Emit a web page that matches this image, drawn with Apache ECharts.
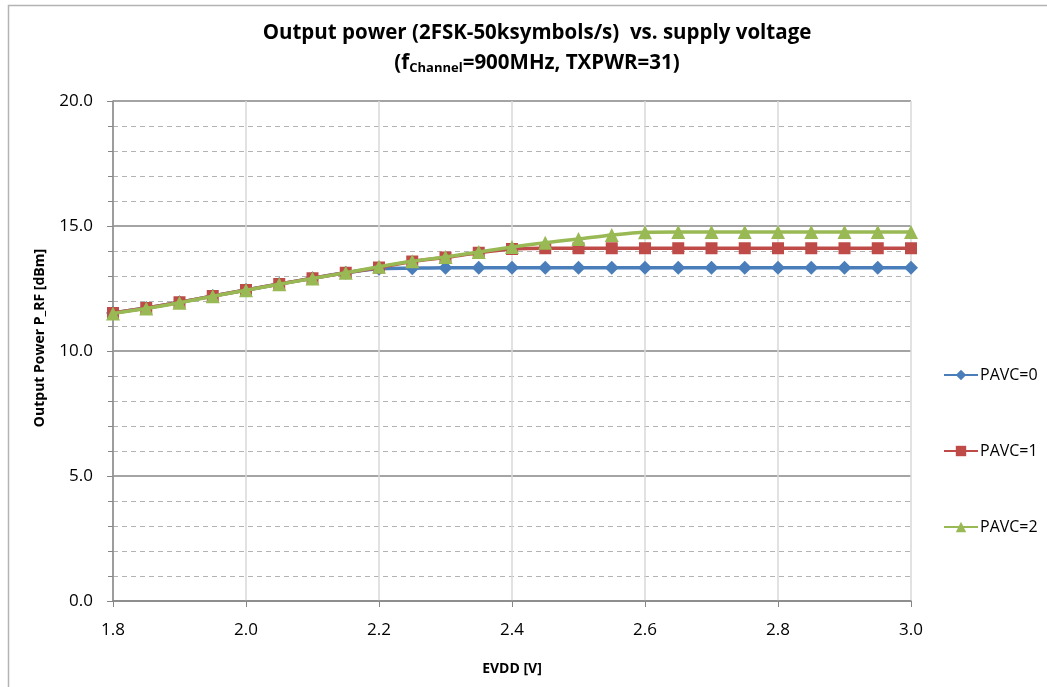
<!DOCTYPE html>
<html>
<head>
<meta charset="utf-8">
<script src="https://cdn.jsdelivr.net/npm/echarts@6/dist/echarts.min.js"></script>
<style>
html,body{margin:0;padding:0;background:#fff;}
#main{width:1047px;height:687px;}
</style>
</head>
<body>
<div id="main"></div>
<script>
var voltages = [1.8,1.85,1.9,1.95,2.0,2.05,2.1,2.15,2.2,2.25,2.3,2.35,2.4,2.45,2.5,2.55,2.6,2.65,2.7,2.75,2.8,2.85,2.9,2.95,3.0];
var pavc0 = [11.52,11.72,11.95,12.2,12.44,12.68,12.91,13.13,13.29,13.31,13.33,13.33,13.33,13.33,13.33,13.33,13.33,13.33,13.33,13.33,13.33,13.33,13.33,13.33,13.33];
var pavc1 = [11.52,11.72,11.95,12.2,12.44,12.68,12.91,13.13,13.34,13.58,13.74,13.93,14.08,14.11,14.11,14.11,14.11,14.11,14.11,14.11,14.11,14.11,14.11,14.11,14.11];
var pavc2 = [11.5,11.7,11.93,12.19,12.43,12.67,12.9,13.13,13.37,13.59,13.76,13.96,14.16,14.33,14.48,14.64,14.75,14.76,14.76,14.76,14.76,14.76,14.76,14.76,14.76];
var seriesNames = ['PAVC=0','PAVC=1','PAVC=2'];
var yTicks = [0,5,10,15,20];
var xTicks = [1.8,2.0,2.2,2.4,2.6,2.8,3.0];

function pairs(arr){ return voltages.map(function(v,i){ return [v, arr[i]]; }); }

var FONT = 'Open Sans';
var chart = echarts.init(document.getElementById('main'));
var colors = ['#4A7EBB','#BE4B48','#98B954'];
var symbols = ['diamond','rect','triangle'];
var sizes = [14,12,14];
var datasets = [pavc0,pavc1,pavc2];

chart.setOption({
  animation:false,
  backgroundColor:'#fff',
  graphic:[{
    type:'rect', shape:{x:8.5,y:5.5,width:1200,height:800},
    style:{fill:'none',stroke:'#b3b3b3',lineWidth:1.5}, silent:true
  },{
    type:'text', x:40, y:338, rotation:Math.PI/2, silent:true,
    style:{text:'Output Power P_RF [dBm]', fontFamily:FONT, fontWeight:'bold', fontSize:14,
      fill:'#000', align:'center', verticalAlign:'middle'}
  }],
  title:{
    left:532, top:13, textAlign:'center',
    text:'{t|Output power (2FSK-50ksymbols/s)  vs. supply voltage}\n{t|(f}{s|Channel}{t|=900MHz, TXPWR=31)}',
    textStyle:{
      rich:{
        t:{fontFamily:FONT,fontWeight:'bold',fontSize:20.5,color:'#000',lineHeight:30},
        s:{fontFamily:FONT,fontWeight:'bold',fontSize:13,color:'#000',lineHeight:30,padding:[11,0,0,0]}
      }
    }
  },
  grid:{left:113,right:136,top:101,bottom:86,containLabel:false},
  legend:{
    orient:'vertical', left:938, top:362, itemGap:60,
    itemWidth:34, itemHeight:13,
    textStyle:{fontFamily:FONT,fontSize:16,color:'#000',padding:[0,0,0,-3]},
    data:seriesNames
  },
  xAxis:{
    type:'value', min:1.8, max:3.0, interval:0.2,
    name:'EVDD [V]', nameLocation:'middle', nameGap:61,
    nameTextStyle:{fontFamily:FONT,fontWeight:'bold',fontSize:14,color:'#000'},
    axisLine:{show:true,lineStyle:{color:'#868686',width:1.5}},
    axisTick:{show:true,length:6,lineStyle:{color:'#868686'}},
    axisLabel:{fontFamily:FONT,fontSize:17,color:'#000',margin:21,
      formatter:function(v){return (+v).toFixed(1);}},
    splitLine:{show:true,lineStyle:{color:'#d9d9d9',width:1.5}}
  },
  yAxis:{
    type:'value', min:0, max:20, interval:5,
    axisLine:{show:true,lineStyle:{color:'#868686',width:1.5}},
    axisTick:{show:true,length:6,lineStyle:{color:'#868686'}},
    minorTick:{show:true,splitNumber:5,length:5,lineStyle:{color:'#868686'}},
    axisLabel:{fontFamily:FONT,fontSize:17,color:'#000',margin:20,
      formatter:function(v){return (+v).toFixed(1);}},
    splitLine:{show:true,lineStyle:{color:'#868686',width:1.5}},
    minorSplitLine:{show:true,lineStyle:{color:'#b3b3b3',type:[5,4],width:1.2}}
  },
  series: datasets.map(function(d,i){
    return {
      name:seriesNames[i], type:'line', data:pairs(d),
      smooth:0.25, symbol:symbols[i], symbolSize:sizes[i],
      lineStyle:{color:colors[i],width:3.5},
      itemStyle:{color:colors[i]},
      z:2+i
    };
  })
});
</script>
</body>
</html>
